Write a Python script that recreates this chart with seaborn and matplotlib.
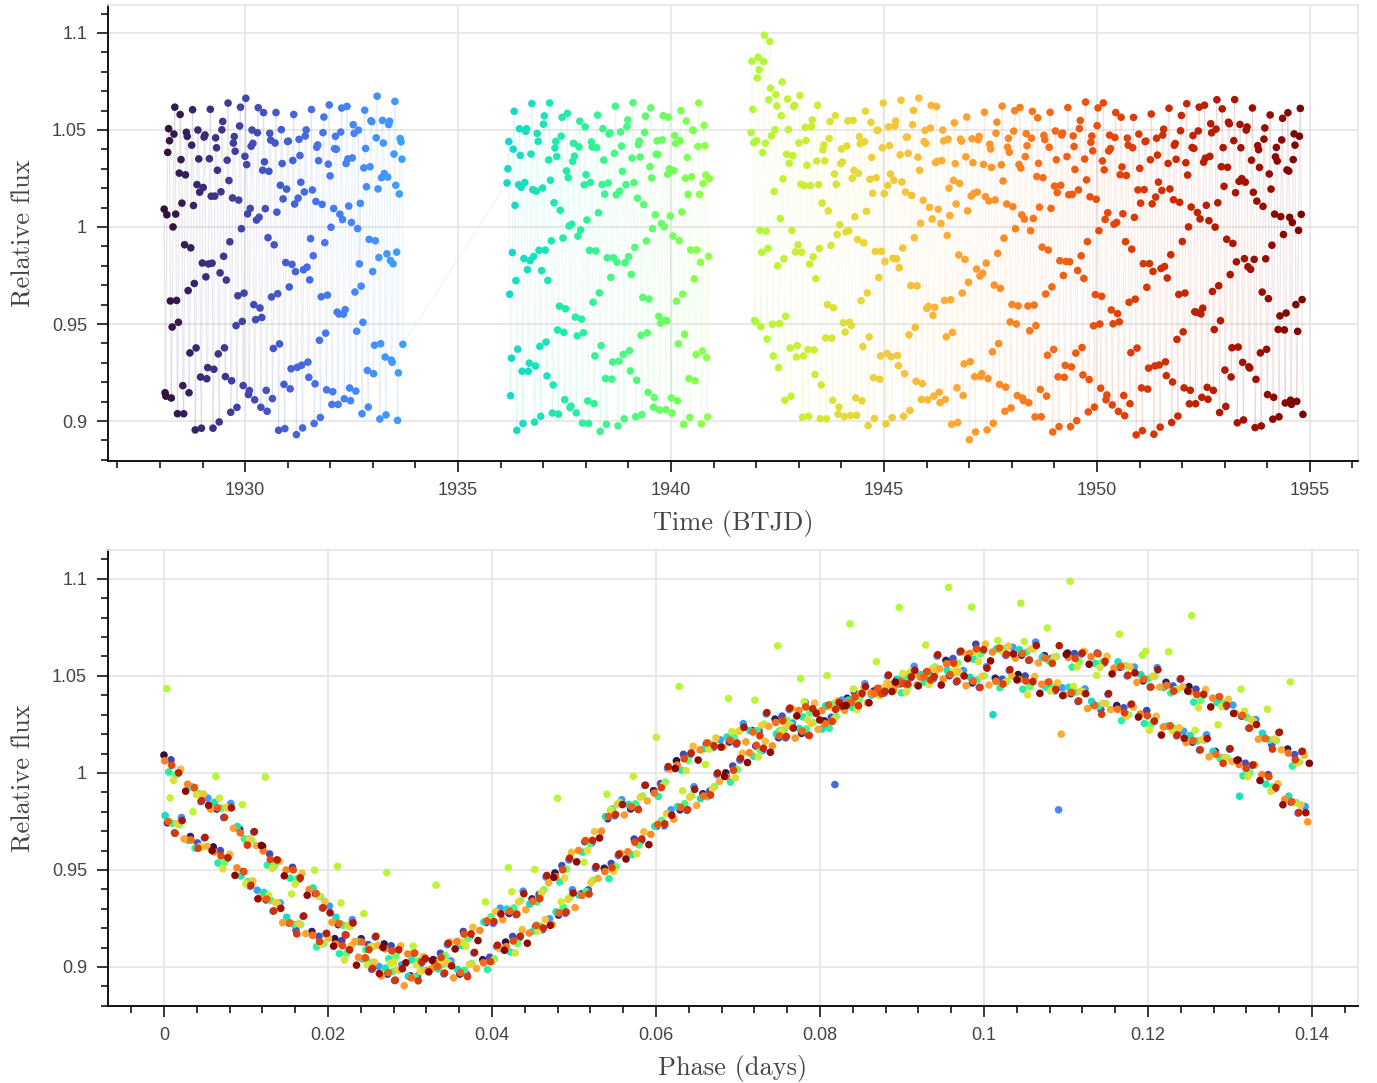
import numpy as np
import pandas as pd
import matplotlib
matplotlib.use("Agg")
import matplotlib.pyplot as plt
from matplotlib.collections import LineCollection
from matplotlib.ticker import MultipleLocator, FuncFormatter
import seaborn as sns

# Observation windows (BTJD) sampled at the 30-minute FFI cadence
seg_start = [1928.10, 1936.15, 1941.88]
seg_end = [1933.71, 1940.92, 1954.84]
cadence = 1.0 / 48.0

# Folding ephemeris (days)
period = 0.13982
t_zero = 1928.10

# Folded light curve, track A (higher on the decline, lower on the rise)
phase_a = [0.0000, 0.0045, 0.0082, 0.0096, 0.0121, 0.0143, 0.0170, 0.0206,
           0.0247, 0.0290, 0.0330, 0.0360, 0.0394, 0.0426, 0.0467, 0.0505,
           0.0532, 0.0565, 0.0605, 0.0630, 0.0657, 0.0687, 0.0711, 0.0735,
           0.0760, 0.0784, 0.0808, 0.0840, 0.0873, 0.0913, 0.0955, 0.0995,
           0.1044, 0.1068, 0.1096, 0.1141, 0.1182, 0.1215, 0.1239, 0.1263,
           0.1304, 0.1328, 0.1352, 0.1377]
flux_a = [1.005, 0.986, 0.979, 0.970, 0.960, 0.949, 0.943, 0.926,
          0.913, 0.905, 0.899, 0.899, 0.904, 0.911, 0.921, 0.938,
          0.948, 0.957, 0.972, 0.983, 0.990, 0.998, 1.007, 1.012,
          1.021, 1.024, 1.027, 1.037, 1.040, 1.050, 1.057, 1.061,
          1.062, 1.062, 1.060, 1.0565, 1.051, 1.048, 1.044, 1.038,
          1.033, 1.024, 1.018, 1.009]

# Folded light curve, track B (lower on the decline, higher on the rise)
phase_b = [0.0003, 0.0040, 0.0076, 0.0113, 0.0150, 0.0186, 0.0223, 0.0259,
           0.0290, 0.0320, 0.0345, 0.0377, 0.0410, 0.0450, 0.0483, 0.0523,
           0.0548, 0.0572, 0.0596, 0.0621, 0.0645, 0.0670, 0.0694, 0.0718,
           0.0743, 0.0767, 0.0800, 0.0824, 0.0849, 0.0873, 0.0913, 0.0955,
           0.0995, 0.1035, 0.1060, 0.1101, 0.1141, 0.1182, 0.1206, 0.1248,
           0.1280, 0.1304, 0.1328, 0.1352, 0.1377, 0.1388]
flux_b = [0.977, 0.965, 0.954, 0.938, 0.926, 0.916, 0.907, 0.898,
          0.896, 0.899, 0.908, 0.9155, 0.927, 0.936, 0.948, 0.964,
          0.980, 0.985, 0.990, 1.0015, 1.008, 1.0135, 1.017, 1.024,
          1.026, 1.030, 1.031, 1.034, 1.039, 1.045, 1.046, 1.049,
          1.049, 1.0485, 1.044, 1.0415, 1.0365, 1.031, 1.0245, 1.018,
          1.013, 1.006, 1.0005, 0.992, 0.9825, 0.980]

# Residual baseline wander (one value per day, BTJD)
base_time = [1928, 1929, 1930, 1931, 1932, 1933, 1934, 1935, 1936, 1937,
             1938, 1939, 1940, 1941, 1942, 1943, 1944, 1945, 1946, 1947,
             1948, 1949, 1950, 1951, 1952, 1953, 1954, 1955]
base_flux = [0.005, -0.003, 0.006, -0.005, 0.002, 0.006, 0.000, 0.000,
             -0.005, 0.004, -0.006, 0.003, -0.002, 0.004, -0.003, 0.006,
             -0.005, 0.002, 0.006, -0.006, 0.003, -0.003, 0.005, -0.006,
             0.002, 0.006, -0.004, 0.003]

# Excess flux at the start of the third window
trend_time = [1941.85, 1941.95, 1942.35, 1942.50, 1942.90, 1943.00]
trend_flux = [0.010, 0.045, 0.038, 0.012, 0.008, 0.000]

# Isolated discrepant cadences (BTJD, relative flux)
odd_time = [1931.5375, 1932.6833, 1936.1708, 1936.9000, 1946.5258]
odd_flux = [0.994, 0.981, 1.030, 0.988, 1.020]

# ---------------------------------------------------------------- data table
time = np.concatenate([np.arange(s, e + 1e-9, cadence)
                       for s, e in zip(seg_start, seg_end)])
phase = np.mod(time - t_zero, period)
track = np.arange(time.size) % 2
flux_track_a = np.interp(phase, phase_a, flux_a, period=period)
flux_track_b = np.interp(phase, phase_b, flux_b, period=period)
flux = np.where(track == 0, flux_track_a, flux_track_b)
flux = flux + np.interp(time, base_time, base_flux)
flux = flux + np.interp(time, trend_time, trend_flux, left=0.0, right=0.0)
for t_odd, f_odd in zip(odd_time, odd_flux):
    flux[np.argmin(np.abs(time - t_odd))] = f_odd

lc = pd.DataFrame({"time": time, "phase": phase, "flux": flux})

# ---------------------------------------------------------------- styling
sns.set_theme(style="white")
plt.rcParams["font.family"] = ["Liberation Sans", "DejaVu Sans"]

TICK_GREY = "#444444"
GRID_GREY = "#e5e5e5"
LABEL_FONT = dict(family=["cmr10", "DejaVu Serif"], size=19, color=TICK_GREY)

cmap = plt.get_cmap("turbo")
hue_norm = (min(seg_start), max(seg_end))
norm = plt.Normalize(*hue_norm)


def fmt_tick(v, _pos):
    return "{:g}".format(round(v, 6))


def style_axes(ax, xmajor, xminor):
    ax.set_facecolor("white")
    ax.grid(True, which="major", color=GRID_GREY, linewidth=1.2)
    ax.set_axisbelow(True)
    for side in ("top", "right"):
        ax.spines[side].set_visible(True)
        ax.spines[side].set_color(GRID_GREY)
        ax.spines[side].set_linewidth(1.2)
    for side in ("left", "bottom"):
        ax.spines[side].set_color("black")
        ax.spines[side].set_linewidth(1.3)
    ax.xaxis.set_major_locator(MultipleLocator(xmajor))
    ax.xaxis.set_minor_locator(MultipleLocator(xminor))
    ax.yaxis.set_major_locator(MultipleLocator(0.05))
    ax.yaxis.set_minor_locator(MultipleLocator(0.01))
    ax.xaxis.set_major_formatter(FuncFormatter(fmt_tick))
    ax.yaxis.set_major_formatter(FuncFormatter(fmt_tick))
    ax.tick_params(which="major", direction="out", length=8, width=1.1,
                   color="black", labelsize=13, labelcolor=TICK_GREY, pad=7,
                   bottom=True, left=True, top=False, right=False)
    ax.tick_params(which="minor", direction="out", length=5, width=1.1,
                   color="black", bottom=True, left=True, top=False, right=False)
    ax.set_ylabel("Relative flux", labelpad=12, **LABEL_FONT)


fig = plt.figure(figsize=(13.77, 10.83), dpi=100)
ax_time = fig.add_axes([0.0784, 0.5743, 0.9078, 0.4211])
ax_fold = fig.add_axes([0.0784, 0.0711, 0.9078, 0.4211])

# ---------------------------------------------------------------- time series
pts = np.column_stack([lc["time"], lc["flux"]])
segs = np.stack([pts[:-1], pts[1:]], axis=1)
seg_colors = cmap(norm(lc["time"].to_numpy()[:-1]))
seg_colors[:, 3] = 0.10
ax_time.add_collection(LineCollection(segs, colors=seg_colors, linewidths=0.9,
                                      zorder=1))

sns.scatterplot(data=lc, x="time", y="flux", hue="time", palette="turbo",
                hue_norm=hue_norm, s=30, linewidth=0, legend=False,
                ax=ax_time, zorder=2)
ax_time.set_xlim(1926.78, 1956.13)
ax_time.set_ylim(0.8794, 1.1144)
style_axes(ax_time, 5, 1)
ax_time.set_xlabel("Time (BTJD)", labelpad=8, **LABEL_FONT)

# ---------------------------------------------------------------- folded curve
sns.scatterplot(data=lc, x="phase", y="flux", hue="time", palette="turbo",
                hue_norm=hue_norm, s=30, linewidth=0, legend=False,
                ax=ax_fold, zorder=2)
ax_fold.set_xlim(-0.00683, 0.14561)
ax_fold.set_ylim(0.8799, 1.1149)
style_axes(ax_fold, 0.02, 0.004)
ax_fold.set_xlabel("Phase (days)", labelpad=8, **LABEL_FONT)

fig.savefig("out.png", dpi=100)
